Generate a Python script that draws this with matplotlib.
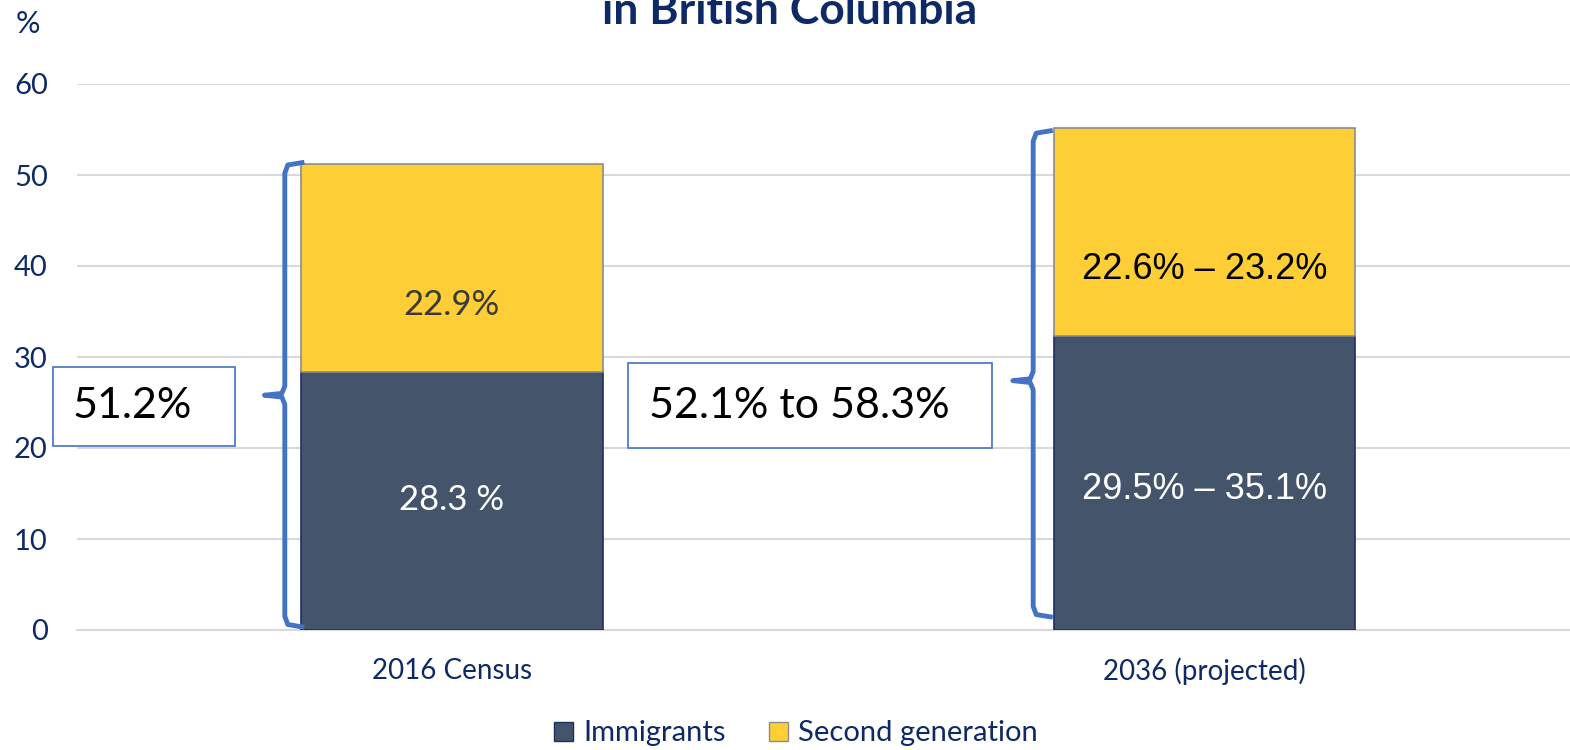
import numpy as np
import matplotlib.pyplot as plt
from matplotlib.patches import Rectangle, Patch

plt.rcParams['font.family'] = ['Lato', 'DejaVu Sans']

categories = ["2016 Census", "2036 (projected)"]
immigrants = [28.3, 32.3]
second_gen = [22.9, 22.9]
immig_labels = ["28.3 %", "29.5% \u2013 35.1%"]
second_labels = ["22.9%", "22.6% \u2013 23.2%"]
total_labels = ["51.2%", "52.1% to 58.3%"]
brace_low = [0.3, 1.4]
brace_high = [51.4, 54.9]
brace_tip = [25.8, 27.4]
yticks = [0, 10, 20, 30, 40, 50, 60]

navy = "#0E2A66"
dark = "#44546A"
yellow = "#FDCE36"
blue = "#4472C4"

fig = plt.figure(figsize=(15.7, 7.5), dpi=100)
ax = fig.add_axes([77 / 1570, 0.16, 1 - 77 / 1570, 0.728])

x = np.arange(len(categories))
ax.bar(x, immigrants, width=0.4, color=dark, edgecolor="#1B2F6B", linewidth=1.2, zorder=3)
ax.bar(x, second_gen, width=0.4, bottom=immigrants, color=yellow, edgecolor="#8C8C8C", linewidth=1.2, zorder=3)

ax.set_xlim(-0.498, 1.485)
ax.set_ylim(0, 60)
ax.set_yticks(yticks)
ax.yaxis.grid(True, color="#D9D9D9", linewidth=1.5)
ax.set_axisbelow(True)
for s in ["top", "right", "left"]:
    ax.spines[s].set_visible(False)
ax.spines["bottom"].set_color("#D9D9D9")
ax.spines["bottom"].set_linewidth(1.5)
ax.tick_params(axis="y", length=0, pad=21, labelsize=21, labelcolor=navy)
ax.tick_params(axis="x", length=0, pad=20, labelsize=20, labelcolor=navy)
ax.set_xticks(x)
ax.set_xticklabels(categories)

# bar segment labels
ax.text(x[0], 14.3, immig_labels[0], ha="center", va="center",
        color="white", fontsize=25)
ax.text(x[0], 35.7, second_labels[0], ha="center", va="center",
        color="#3A3A3A", fontsize=25)
ax.text(x[1], 15.4, immig_labels[1], ha="center", va="center",
        color="white", fontsize=26, family=["Liberation Sans", "DejaVu Sans"])
ax.text(x[1], 39.6, second_labels[1], ha="center", va="center",
        color="black", fontsize=26, family=["Liberation Sans", "DejaVu Sans"])

# braces
brace_x = [-0.222, 0.772]
for i in range(len(categories)):
    vx = brace_x[i]
    hx = vx + 0.026
    tx = vx - 0.027
    lo, hi, mid = brace_low[i], brace_high[i], brace_tip[i]
    xs = [hx, vx + 0.004, vx, vx, vx - 0.004, tx, vx - 0.004, vx, vx, vx + 0.004, hx]
    ys = [hi, hi - 0.3, hi - 1.2, mid + 1.0, mid + 0.2, mid, mid - 0.2, mid - 1.0, lo + 1.2, lo + 0.3, lo]
    ax.plot(xs, ys, color=blue, linewidth=3.5, solid_joinstyle="round", solid_capstyle="butt",
            clip_on=False, zorder=4)

# total boxes
boxes = [(53, 367, 182, 79, 73), (628, 363, 364, 85, 649)]
for (bx, by, bw, bh, tx), lab in zip(boxes, total_labels):
    fig.patches.append(Rectangle((bx / 1570, 1 - (by + bh) / 750), bw / 1570, bh / 750,
                                 transform=fig.transFigure, facecolor="white",
                                 edgecolor=blue, linewidth=1.2, zorder=5))
    fig.text(tx / 1570, 1 - (by + bh / 2) / 750, lab, ha="left", va="center",
             fontsize=31, color="black", zorder=6)

fig.text(0.503, 1 - 24 / 750, "in British Columbia", ha="center", va="baseline",
         fontsize=32, fontweight="bold", color=navy)
fig.text(16 / 1570, 1 - 33 / 750, "%", ha="left", va="baseline", fontsize=22, color=navy)

handles = [Patch(facecolor=dark, edgecolor="#1B2F6B"), Patch(facecolor=yellow, edgecolor="#8C8C8C")]
fig.legend(handles, ["Immigrants", "Second generation"], loc="center", bbox_to_anchor=(0.507, 0.022),
           ncol=2, frameon=False, fontsize=21, labelcolor=navy, handlelength=0.65, handleheight=0.65,
           handletextpad=0.35, columnspacing=1.5)

fig.savefig("out.png", dpi=100)
